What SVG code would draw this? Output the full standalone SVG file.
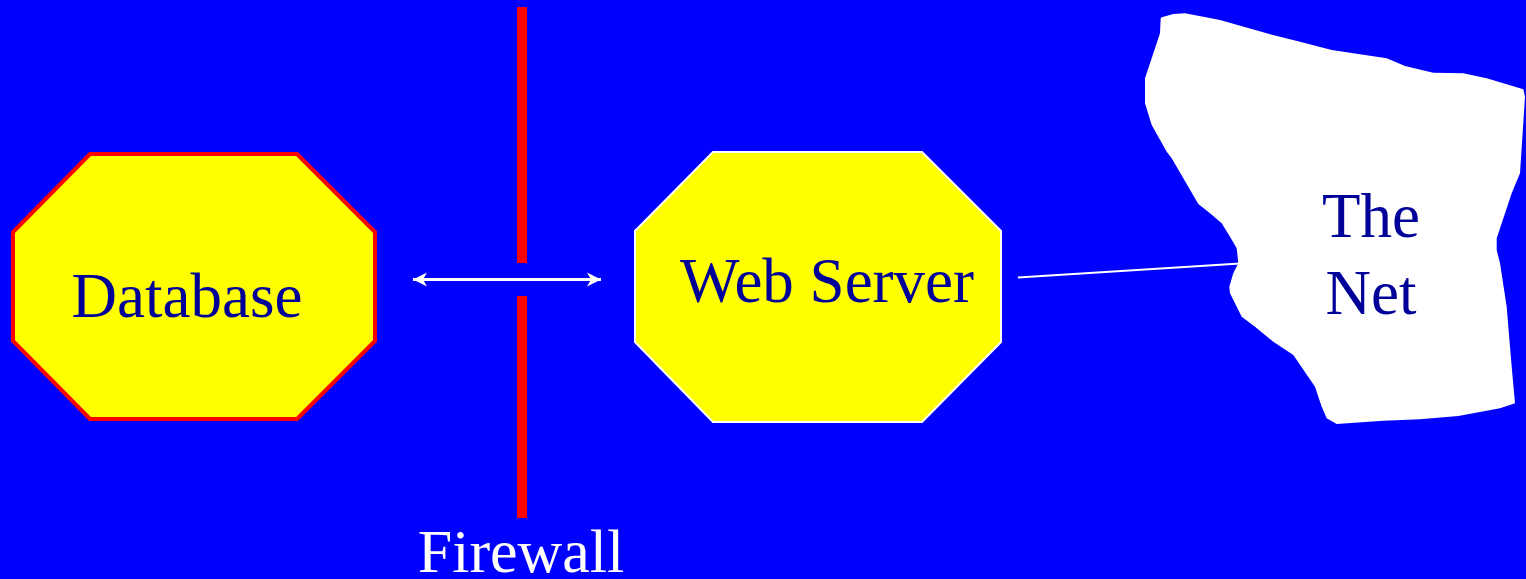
<svg xmlns="http://www.w3.org/2000/svg" width="1526" height="579" viewBox="0 0 1526 579">
  <style>
    .label { font-family: "Liberation Serif", "Times New Roman", serif; font-size: 63px; fill: #000099; text-anchor: middle; }
    .octagon { fill: #FFFF00; }
    .wall { fill: #FF0000; }
    .link { stroke: #FFFFFF; fill: none; }
  </style>
  <defs>
    <marker id="stealth" viewBox="0 0 16 16" refX="15" refY="8" markerWidth="16" markerHeight="16" markerUnits="userSpaceOnUse" orient="auto-start-reverse">
      <path d="M15,8 L1,1 L5,8 L1,15 Z" fill="#FFFFFF"/>
    </marker>
  </defs>

  <rect width="1526" height="579" fill="#0000FF"/>

  <!-- firewall barrier, split where the link passes through -->
  <g id="firewall">
    <rect class="wall" x="517" y="7" width="10" height="256"/>
    <rect class="wall" x="517" y="296" width="10" height="222"/>
    <text x="521" y="572" class="label" style="fill:#FFFFFF;font-size:62px">Firewall</text>
  </g>

  <g id="database">
    <polygon class="octagon" points="90,154 297,154 375,232 375,341 297,419 90,419 13,341 13,232" stroke="#FF0000" stroke-width="4"/>
    <text x="187" y="317" class="label">Database</text>
  </g>

  <g id="web-server">
    <polygon class="octagon" points="713,152 922,152 1001,231 1001,342 922,422 713,422 635,342 635,231" stroke="#FFFFFF" stroke-width="2"/>
    <text x="827" y="302" class="label">Web Server</text>
  </g>

  <g id="the-net">
    <polygon fill="#FFFFFF" points="1161.7,17.3 1173.3,14 1185,13.3 1220,20 1266.7,33.3 1300,41.7 1331.7,50 1386.7,58.3 1405,66 1433.3,72.7 1463.3,73.3 1486.7,78.3 1523.3,89.3 1525,96.7 1520,173.3 1511.7,193.3 1496.7,238.3 1496.7,250 1500,263.3 1506.7,306.7 1510,346.7 1511.7,366.7 1515,403.3 1500,408.3 1458.3,416 1420,419.3 1383.3,420.7 1336.7,424 1326.7,418.3 1321.7,406.7 1315,386.7 1293.3,355 1273.3,341.7 1255,326.7 1241.7,316.7 1230,293.3 1229.3,286.7 1233.3,273.3 1238.3,263.3 1236.7,248.3 1230,236.7 1221.7,223.3 1210,213.3 1198.3,204 1171.7,158.3 1166.7,151.7 1151.7,125 1145,103.3 1145,78.3 1160,33.3 1160.7,18.3"/>
    <text x="1371" y="237" class="label">The</text>
    <text x="1371" y="314" class="label">Net</text>
  </g>

  <g id="connectors">
    <line class="link" x1="413" y1="279.5" x2="601" y2="279.5" stroke-width="3" marker-start="url(#stealth)" marker-end="url(#stealth)"/>
    <line class="link" x1="1018" y1="277.5" x2="1240" y2="263.5" stroke-width="2"/>
  </g>
</svg>
